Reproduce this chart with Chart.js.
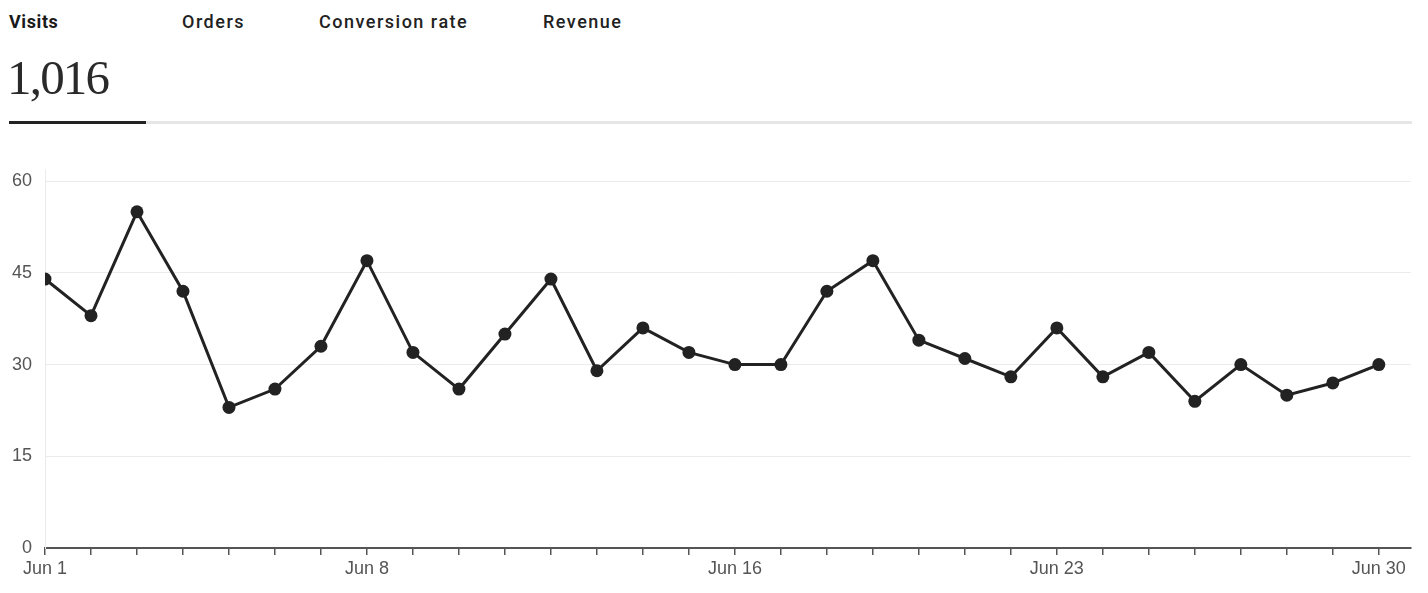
<!DOCTYPE html>
<html>
<head>
<meta charset="utf-8">
<script src="https://cdn.jsdelivr.net/npm/chart.js@4.4.1/dist/chart.umd.min.js"></script>
<style>
  html, body { margin: 0; padding: 0; background: #fff; width: 1428px; height: 593px; overflow: hidden; }
  .tab { position: absolute; top: 11px; font-family: Roboto, "Liberation Sans", sans-serif; font-size: 18px; font-weight: 500; color: #222; white-space: nowrap; letter-spacing: 1.5px; }
  .tab.active { font-weight: 700; letter-spacing: 0.6px; color: #1a1a1a; }
  .big { position: absolute; left: 7px; top: 50px; font-family: "Liberation Serif", serif; font-size: 49px; color: #2a2a2a; letter-spacing: -1.8px; line-height: 56px; }
  .under-dark { position: absolute; left: 9px; top: 121px; width: 137px; height: 3px; background: #222; }
  .under-light { position: absolute; left: 146px; top: 121px; width: 1266px; height: 3px; background: #e6e6e6; }
  #wrap { position: absolute; left: 0; top: 150px; width: 1428px; height: 443px; }
</style>
</head>
<body>
<div class="tab active" style="left:9px">Visits</div>
<div class="tab" style="left:182px">Orders</div>
<div class="tab" style="left:319px">Conversion rate</div>
<div class="tab" style="left:543px">Revenue</div>
<div class="big">1,016</div>
<div class="under-dark"></div>
<div class="under-light"></div>
<div id="wrap"><canvas id="c" width="1428" height="443"></canvas></div>
<script>
const days = [1,2,3,4,5,6,7,8,9,10,11,12,13,14,15,16,17,18,19,20,21,22,23,24,25,26,27,28,29,30];
const visits = [44,38,55,42,23,26,33,47,32,26,35,44,29,36,32,30,30,42,47,34,31,28,36,28,32,24,30,25,27,30];
const labeledDays = [1,8,16,23,30];
const monthName = "Jun";
const yTicks = [0,15,30,45,60];

const points = days.map((d,i) => ({x: d, y: visits[i]}));

new Chart(document.getElementById('c'), {
  type: 'line',
  data: {
    datasets: [{
      data: points,
      borderColor: '#222',
      backgroundColor: '#222',
      borderWidth: 3,
      pointRadius: 6.5,
      pointBackgroundColor: '#222',
      pointBorderColor: '#222',
      pointBorderWidth: 0,
      tension: 0
    }]
  },
  options: {
    responsive: false,
    animation: false,
    events: [],
    layout: { padding: { left: 0, right: 17, top: 19, bottom: 0 } },
    plugins: { legend: { display: false }, tooltip: { enabled: false } },
    scales: {
      x: {
        type: 'linear',
        min: 1,
        max: 30.7,
        afterBuildTicks: s => { s.ticks = days.map(v => ({value: v})); },
        afterFit: s => { s.height = 45; s.paddingLeft = 0; s.paddingRight = 0; },
        grid: { drawOnChartArea: false, drawTicks: true, tickLength: 7, color: '#555', lineWidth: 1.5 },
        border: { display: true, color: '#555', width: 2 },
        ticks: {
          autoSkip: false,
          maxRotation: 0,
          padding: 3,
          color: '#555',
          font: { family: '"Liberation Sans", Arial, sans-serif', size: 18 },
          callback: v => labeledDays.includes(v) ? monthName + ' ' + v : ''
        }
      },
      y: {
        min: 0,
        max: 62,
        afterBuildTicks: s => { s.ticks = yTicks.map(v => ({value: v})); },
        afterFit: s => { s.width = 45; s.paddingTop = 0; s.paddingBottom = 0; },
        grid: { drawTicks: false, color: '#ebebeb', lineWidth: 1 },
        border: { display: true, color: '#ebebeb', width: 1 },
        ticks: {
          padding: 13,
          color: '#555',
          font: { family: '"Liberation Sans", Arial, sans-serif', size: 18 }
        }
      }
    }
  }
});
</script>
</body>
</html>
